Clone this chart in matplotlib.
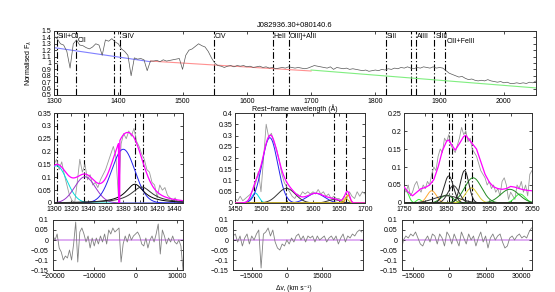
# Quasar UV spectrum fit: J082936.30+080140.6
import numpy as np
import matplotlib
matplotlib.use("Agg")
import matplotlib.pyplot as plt
from matplotlib.ticker import FuncFormatter

plt.rcParams['font.family'] = ['Liberation Sans', 'DejaVu Sans']
plt.rcParams['font.size'] = 5

# ---- top panel: normalised spectrum (5 A steps, 1300-2050) ----
top_wave = np.arange(1300, 2051, 5)
top_flux = [1.42, 1.38, 1.30, 1.28, 1.18, 0.92, 1.30, 1.36, 1.28, 1.27,
            1.24, 1.22, 1.25, 1.30, 1.28, 1.12, 1.36, 1.34, 1.38, 1.33,
            1.30, 1.22, 1.18, 1.12, 0.80, 1.08, 1.06, 1.07, 1.05, 0.88,
            1.03, 1.03, 1.04, 1.02, 1.05, 1.03, 1.04, 1.05, 1.06, 1.07,
            0.90, 1.12, 1.20, 1.22, 1.26, 1.30, 1.27, 1.25, 1.18, 1.08,
            1.00, 0.96, 0.95, 0.93, 0.95, 0.96, 0.94, 0.96, 0.95, 0.96,
            0.94, 0.95, 0.93, 0.94, 0.95, 0.93, 0.94, 0.92, 0.93, 0.91,
            0.92, 0.93, 0.92, 0.94, 0.93, 0.92, 0.93, 0.92, 0.91, 0.92,
            0.94, 0.96, 0.95, 0.94, 0.93, 0.92, 0.94, 0.90, 0.93, 0.92,
            0.91, 0.92, 0.90, 0.91, 0.90, 0.89, 0.88, 0.89, 0.87, 0.88,
            0.89, 0.88, 0.90, 0.89, 0.91, 0.90, 0.92, 0.91, 0.93, 0.92,
            0.94, 0.92, 0.91, 0.93, 0.92, 0.94, 0.93, 0.92, 0.94, 0.92,
            0.93, 0.92, 0.88, 0.84, 0.82, 0.80, 0.78, 0.79, 0.76, 0.74,
            0.75, 0.73, 0.72, 0.73, 0.72, 0.74, 0.72, 0.71, 0.70, 0.71,
            0.69, 0.70, 0.68, 0.68, 0.69, 0.68, 0.69, 0.68, 0.70, 0.69,
            0.72]

# continuum pieces: (start, end) wavelengths and fluxes
cont_waves = [(1300, 1450), (1450, 1700), (1700, 2050)]
cont_fluxes = [(1.24, 1.02), (1.03, 0.875), (0.89, 0.61)]
cont_colors = ['#8080ff', '#ff9090', '#80ee80']

line_waves = [1304, 1335, 1394, 1403, 1549, 1640, 1665, 1816, 1855, 1863, 1892, 1909]
line_names = ['SiII+OI', 'CII', '', 'SiIV', 'CIV', 'HeII', 'OIII]+AlII',
              'SiII', '', 'AlIII', 'SiIII', 'CIII+FeIII']
line_label_y = [1.47, 1.40, 1.47, 1.47, 1.47, 1.47, 1.47, 1.47, 1.47, 1.47, 1.47, 1.39]

# ---- middle panel 1: SiIV region ----
p1_wave = np.arange(1300, 1451, 3)
p1_flux = [0.15, 0.17, 0.13, 0.16, 0.11, 0.07, 0.03, 0.01, 0.00, 0.08,
           0.17, 0.12, 0.15, 0.09, 0.11, 0.07, 0.08, 0.06, 0.09, 0.11,
           0.13, 0.16, 0.19, 0.22, 0.18, 0.02, 0.23, 0.27, 0.25, 0.28,
           0.26, 0.29, 0.24, 0.22, 0.19, 0.17, 0.13, 0.12, 0.08, 0.07,
           0.02, 0.07, 0.05, 0.06, 0.03, 0.02, 0.01, 0.02, 0.00, 0.01,
           0.01]
p1_centres = [1303, 1336, 1380.5, 1394, 1402]
p1_amps = [0.145, 0.102, 0.209, 0.073, 0.062]
p1_widths = [12, 12, 13.5, 13, 15]
p1_shapes = ['g', 'g', 'g', 'l', 'l']
p1_colors = ['#00dddd', '#9933cc', '#2222ee', 'black', '#333333']
p1_mask = (1375, 1376.5)
p1_lines = [1304, 1335, 1394, 1403]

# ---- middle panel 2: CIV region ----
p2_wave = np.arange(1450, 1701, 5)
p2_flux = [0.02, 0.01, 0.03, 0.01, 0.02, 0.03, 0.04, 0.06, 0.09, 0.14,
           0.05, 0.20, 0.35, 0.29, 0.31, 0.27, 0.24, 0.19, 0.13, 0.09,
           0.07, 0.05, 0.03, 0.02, 0.04, 0.03, 0.05, 0.04, 0.05, 0.04,
           0.05, 0.04, 0.06, 0.04, 0.05, 0.03, 0.04, 0.02, 0.03, 0.02,
           0.02, 0.01, 0.03, 0.02, 0.05, 0.03, 0.02, 0.05, 0.03, 0.05,
           0.04]
p2_centres = [1489, 1517, 1605, 1549, 1640, 1667, 1663]
p2_amps = [0.044, 0.29, 0.043, 0.065, 0.015, 0.035, 0.02]
p2_widths = [7, 15, 17, 17, 12, 4, 5]
p2_colors = ['#00dddd', '#2222ee', '#2222ee', '#333333', '#333333', '#ff9900', '#cccc22']
p2_lines = [1486, 1549, 1640, 1663]

# ---- middle panel 3: CIII] region ----
p3_wave = np.arange(1750, 2051, 5)
p3_flux = [0.04, 0.03, 0.05, 0.02, 0.03, 0.05, 0.06, 0.04, 0.03, 0.05,
           0.04, 0.06, 0.05, 0.08, 0.10, 0.09, 0.13, 0.15, 0.14, 0.18,
           0.17, 0.19, 0.16, 0.15, 0.14, 0.16, 0.18, 0.21, 0.19, 0.20,
           0.17, 0.18, 0.15, 0.14, 0.13, 0.11, 0.09, 0.08, 0.07, 0.05,
           0.06, 0.04, 0.05, 0.03, 0.04, 0.02, 0.06, 0.07, 0.05, 0.01,
           0.03, 0.02, 0.01, 0.05, 0.04, 0.06, 0.03, 0.05, 0.02, 0.08,
           0.09]
p3_centres = [1752, 1785, 2022, 1815, 1850, 1912, 1998, 1908, 1850, 1855, 1866, 1892]
p3_amps = [0.04, 0.01, 0.025, 0.034, 0.022, 0.07, 0.038, 0.042, 0.02, 0.075, 0.048, 0.09]
p3_widths = [8, 6, 12, 11, 14, 20, 22, 14, 30, 11, 13, 10]
p3_colors = ['#33ee33', '#33ee33', '#33ee33', '#ffaa33', '#228b22', '#228b22', '#228b22',
             '#ddcc33', '#333333', '#222222', '#333333', '#222222']
p3_model_wave = [1750, 1760, 1770, 1780, 1790, 1800, 1810, 1820, 1830, 1840, 1850, 1855,
                 1860, 1870, 1880, 1890, 1895, 1900, 1910, 1920, 1930, 1940, 1950, 1960,
                 1970, 1980, 1990, 2000, 2010, 2020, 2030, 2040, 2050]
p3_model_flux = [0.045, 0.030, 0.020, 0.030, 0.040, 0.043, 0.050, 0.065, 0.100, 0.145,
                 0.172, 0.175, 0.165, 0.147, 0.165, 0.185, 0.188, 0.180, 0.165, 0.150,
                 0.115, 0.080, 0.058, 0.045, 0.040, 0.038, 0.040, 0.046, 0.044, 0.040,
                 0.037, 0.035, 0.034]
p3_lines = [1816, 1855, 1863, 1892, 1909]

# ---- residuals (velocity space) ----
r1_vel = np.arange(-20000, 11501, 500)
r1_res = [0.02, 0.00, 0.03, -0.04, -0.06, -0.10, -0.08, -0.09, -0.05, -0.10,
          -0.02, 0.09, -0.11, 0.04, 0.06, 0.03, -0.01, 0.02, -0.04, 0.01,
          -0.03, 0.01, -0.02, 0.02, -0.01, 0.03, -0.02, 0.05, 0.03, 0.06,
          0.04, 0.05, 0.06, -0.11, -0.02, 0.02, -0.01, 0.03, 0.00, 0.02,
          0.03, 0.04, 0.02, -0.02, -0.03, 0.01, -0.04, 0.00, 0.02, -0.01,
          0.03, 0.08, -0.07, 0.05, 0.02, -0.02, 0.01, -0.01, 0.02, -0.01,
          -0.02, 0.00, -0.03, -0.15]
r2_vel = np.arange(-23000, 32001, 1000)
r2_res = [0.02, 0.03, -0.01, 0.02, -0.03, 0.01, 0.03, -0.02, 0.02, 0.00,
          0.03, 0.05, -0.14, 0.03, 0.04, 0.06, 0.02, 0.05, -0.01, -0.04,
          -0.05, -0.02, -0.03, 0.00, -0.02, 0.01, -0.01, 0.02, 0.03, 0.00,
          0.02, -0.01, 0.02, 0.01, 0.02, -0.01, 0.02, 0.00, 0.01, 0.02,
          -0.01, 0.01, 0.02, 0.00, 0.02, -0.02, 0.01, 0.03, -0.01, 0.02,
          0.01, 0.03, 0.02, 0.04, 0.05, 0.04]
r3_vel = np.concatenate([[-19500], np.arange(-19000, 34001, 1000)])
r3_res = [-0.03,
          0.00, 0.02, 0.01, 0.03, 0.02, 0.04, 0.01, -0.02, -0.03, 0.00,
          0.02, -0.01, 0.03, 0.02, -0.02, 0.03, 0.01, -0.03, 0.04, 0.02,
          -0.02, 0.03, 0.00, -0.03, 0.04, 0.01, -0.02, 0.03, 0.00, 0.02,
          -0.03, 0.01, 0.04, -0.01, 0.02, -0.04, 0.01, 0.03, 0.00, 0.02,
          0.03, -0.01, -0.04, -0.03, 0.01, 0.02, 0.00, 0.02, 0.03, 0.01,
          0.02, 0.01, 0.04, 0.06]
res_yticks = [-0.15, -0.1, -0.05, 0, 0.05, 0.1]


def gauss(x, c, a, s):
    return a * np.exp(-0.5 * ((x - c) / s) ** 2)


def lorentz(x, c, a, g):
    return a / (1 + ((x - c) / g) ** 2)


def gfmt(v, pos):
    v = round(v, 6)
    if v == 0:
        return '0'
    return ('%g' % v).replace('-', '\u2212')


def style(ax, xpad=2.5, ypad=2):
    ax.tick_params(direction='in', length=2, width=0.5, labelsize=5,
                   top=True, right=True)
    ax.tick_params(axis='x', pad=xpad)
    ax.tick_params(axis='y', pad=ypad)
    for s in ax.spines.values():
        s.set_linewidth(0.7)
        s.set_color('#333333')
    ax.yaxis.set_major_formatter(FuncFormatter(gfmt))
    ax.xaxis.set_major_formatter(FuncFormatter(gfmt))


def vlines(ax, waves):
    for w in waves:
        ax.axvline(w, color='black', lw=0.8, ls=(0, (6, 2, 1, 2)), zorder=1)


fig = plt.figure(figsize=(5.55, 2.92), dpi=100)

# top panel
ax = fig.add_axes([0.0973, 0.6747, 0.8685, 0.2192])
style(ax)
for (w0, w1), (f0, f1), c in zip(cont_waves, cont_fluxes, cont_colors):
    ax.plot([w0, w1], [f0, f1], color=c, lw=0.8, zorder=2)
ax.plot(top_wave, top_flux, color='#555555', lw=0.5, zorder=3)
vlines(ax, line_waves)
for w, n, y in zip(line_waves, line_names, line_label_y):
    if n:
        ax.text(w + 1.5, y, n, fontsize=5, va='top', ha='left')
ax.set_xlim(1300, 2050)
ax.set_ylim(0.5, 1.5)
ax.set_xticks(np.arange(1300, 2001, 100))
ax.set_yticks(np.round(np.arange(0.5, 1.51, 0.1), 2))
ax.set_title('J082936.30+080140.6', fontsize=5.5, pad=3)
ax.set_ylabel('Normalised F$_\\lambda$', fontsize=5, labelpad=5)
fig.text(0.532, 1 - 108.5 / 292, 'Rest\u2212frame wavelength (\u00c5)', ha='center',
         va='center', fontsize=5)

# middle panel 1
ax = fig.add_axes([0.0973, 0.3048, 0.2324, 0.3082])
style(ax)
x = np.linspace(1300, 1450, 1501)
ax.plot(p1_wave, p1_flux, color='#9a9a9a', lw=0.6, zorder=2)
total = np.zeros_like(x)
for c, a, w, sh, col in zip(p1_centres, p1_amps, p1_widths, p1_shapes, p1_colors):
    y = gauss(x, c, a, w) if sh == 'g' else lorentz(x, c, a, w)
    total += y
    ax.plot(x, y, color=col, lw=0.7, zorder=3)
total[(x > p1_mask[0]) & (x < p1_mask[1])] = 0
ax.plot(x, total, color='#ff00ff', lw=0.9, zorder=4)
vlines(ax, p1_lines)
ax.set_xlim(1300, 1450)
ax.set_ylim(0, 0.35)
ax.set_xticks(np.arange(1300, 1441, 20))
ax.set_yticks(np.round(np.arange(0, 0.351, 0.05), 2))

# middle panel 2
ax = fig.add_axes([0.4234, 0.3048, 0.2342, 0.3082])
style(ax)
x = np.linspace(1450, 1700, 1001)
ax.plot(p2_wave, p2_flux, color='#9a9a9a', lw=0.6, zorder=2)
total = np.zeros_like(x)
for c, a, w, col in zip(p2_centres, p2_amps, p2_widths, p2_colors):
    y = gauss(x, c, a, w)
    total += y
    ax.plot(x, y, color=col, lw=0.7, zorder=3)
ax.plot(x, total, color='#ff00ff', lw=0.9, zorder=4)
vlines(ax, p2_lines)
ax.set_xlim(1450, 1700)
ax.set_ylim(0, 0.4)
ax.set_xticks(np.arange(1450, 1701, 50))
ax.set_yticks(np.round(np.arange(0, 0.401, 0.05), 2))

# middle panel 3
ax = fig.add_axes([0.7279, 0.3048, 0.2306, 0.3082])
style(ax)
x = np.linspace(1750, 2050, 1201)
ax.plot(p3_wave, p3_flux, color='#9a9a9a', lw=0.6, zorder=2)
for c, a, w, col in zip(p3_centres, p3_amps, p3_widths, p3_colors):
    ax.plot(x, gauss(x, c, a, w), color=col, lw=0.7, zorder=3)
ax.plot(p3_model_wave, p3_model_flux, color='#ff00ff', lw=0.9, zorder=4)
vlines(ax, p3_lines)
ax.set_xlim(1750, 2050)
ax.set_ylim(0, 0.25)
ax.set_xticks(np.arange(1750, 2051, 50))
ax.set_yticks(np.round(np.arange(0, 0.251, 0.05), 2))

# residual panels
res_sets = [(r1_vel, r1_res, (-20000, 11500), [-20000, -10000, 0, 10000], 0.0955),
            (r2_vel, r2_res, (-23000, 32500), [-15000, 0, 15000], 0.4198),
            (r3_vel, r3_res, (-19600, 34200), [-15000, 0, 15000, 30000], 0.7243)]
for vel, res, lim, ticks, left in res_sets:
    ax = fig.add_axes([left, 0.0753, 0.2342, 0.1713])
    style(ax, xpad=2.5, ypad=3)
    ax.axhline(0, color='#d9a0f0', lw=1.2, zorder=1)
    ax.plot(vel, res, color='#808080', lw=0.6, zorder=2)
    ax.set_xlim(*lim)
    ax.set_ylim(-0.15, 0.1)
    ax.set_xticks(ticks)
    ax.set_yticks(res_yticks)

fig.text(0.53, 0.5 / 292, '\u0394v, (km s\u207b\u00b9)', ha='center', va='bottom', fontsize=4.8)

fig.savefig('out.png', dpi=100)
